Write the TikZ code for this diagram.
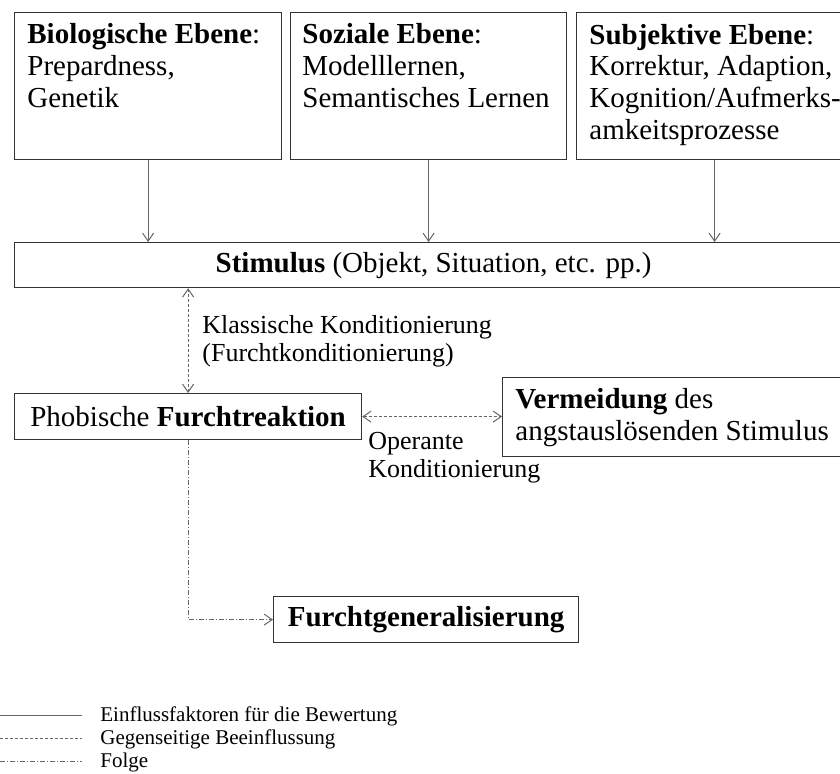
\documentclass[tikz,border=0pt]{standalone}
\usepackage{fontspec}
\setmainfont{Liberation Serif}
\usetikzlibrary{
    arrows.meta,
    calc,
    positioning
}
\tikzset{
    box/.style={draw=black!80, line width=0.6pt, inner sep=0pt, anchor=north west, font=\fontsize{14.5}{15.8}\selectfont},
    boxtext/.style={inner sep=0pt, anchor=base west, align=left, font=\fontsize{14.5}{15.8}\selectfont},
    lbl/.style={inner sep=0pt, anchor=base west, align=left, font=\fontsize{13}{14}\selectfont},
    legtext/.style={inner sep=0pt, anchor=base west, font=\fontsize{10.5}{12}\selectfont},
    influence/.style={draw=black!60, line width=0.5pt, ->},
    mutual/.style={draw=black!60, line width=0.5pt, dash pattern=on 1.5pt off 1pt, <->},
    consequence/.style={draw=black!60, line width=0.5pt, dash pattern=on 2.5pt off 1pt on 0.5pt off 1pt, ->}
}
\begin{document}
\begin{tikzpicture}[x=0.5pt, y=-0.5pt, >={Straight Barb[length=4pt, width=5.5pt]}]
    \useasboundingbox (0, 0) rectangle (840, 773);
    \clip (0, 0) rectangle (840, 773);
    \node[box, minimum width=133.5pt, minimum height=73.5pt] (bio) at (14, 12) {};
    \node[box, minimum width=138pt, minimum height=73.5pt] (soz) at (290, 12) {};
    \node[box, minimum width=138pt, minimum height=73.5pt] (subj) at (576, 12) {};
    \node[boxtext] (bioT) at (27, 107) {\textbf{Biologische Ebene}:\\Prepardness,\\Genetik};
    \node[boxtext] (sozT) at (302, 107) {\textbf{Soziale Ebene}:\\Modelllernen,\\Semantisches Lernen};
    \node[boxtext] (subjT) at (589, 139) {\textbf{Subjektive Ebene}:\\Korrektur, Adaption,\\Kognition/Aufmerks-\\amkeitsprozesse};
    \node[box, minimum width=419pt, minimum height=22.5pt] (stim) at (14, 242) {\textbf{Stimulus} (Objekt, Situation, etc. pp.)};
    \node[box, minimum width=173.5pt, minimum height=23pt] (react) at (14, 393) {Phobische \textbf{Furchtreaktion}};
    \node[box, minimum width=175pt, minimum height=39.5pt] (avoid) at (502, 377) {};
    \node[boxtext] (avoidT) at (515, 440) {\textbf{Vermeidung} des\\angstauslösenden Stimulus};
    \node[box, minimum width=152.5pt, minimum height=23pt] (gen) at (273, 596) {\textbf{Furchtgeneralisierung}};
    \node[lbl] (klass) at (202, 361) {Klassische Konditionierung\\(Furchtkonditionierung)};
    \node[lbl] (oper) at (368, 477) {Operante\\Konditionierung};
    \draw[influence] (bio.south) -- (bio.south |- stim.north);
    \draw[influence] (soz.south) -- (soz.south |- stim.north);
    \draw[influence] (subj.south) -- (subj.south |- stim.north);
    \draw[mutual] (react.north) -- (react.north |- stim.south);
    \draw[mutual] (react.east) -- (avoid.west |- react.east);
    \draw[consequence] (react.south) |- (gen.west);
    \coordinate (legA) at (0, 715);
    \coordinate (legB) at (0, 738);
    \coordinate (legC) at (0, 761);
    \draw[influence, -] (legA) -- ++(82, 0);
    \draw[mutual, -] (legB) -- ++(82, 0);
    \draw[consequence, -] (legC) -- ++(82, 0);
    \node[legtext] (legAT) at (100, 721) {Einflussfaktoren für die Bewertung};
    \node[legtext] (legBT) at (100, 744) {Gegenseitige Beeinflussung};
    \node[legtext] (legCT) at (100, 767) {Folge};
\end{tikzpicture}
\end{document}
